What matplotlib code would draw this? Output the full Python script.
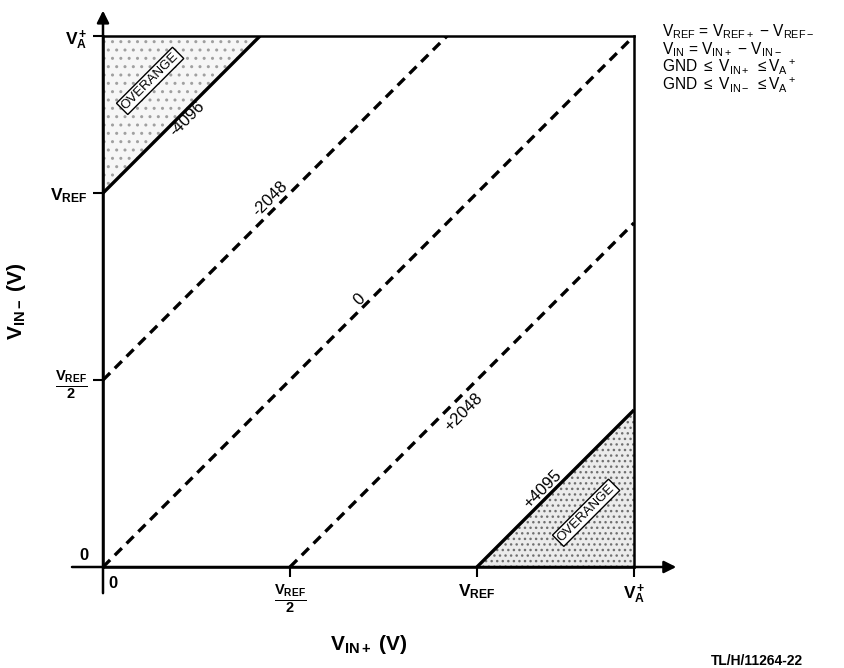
import numpy as np
import matplotlib
matplotlib.use("Agg")
import matplotlib.pyplot as plt

plt.rcParams['font.family'] = ['Liberation Sans', 'DejaVu Sans']
plt.rcParams['mathtext.fontset'] = 'custom'
plt.rcParams['mathtext.rm'] = 'Liberation Sans'
plt.rcParams['mathtext.it'] = 'Liberation Sans'
plt.rcParams['mathtext.bf'] = 'Liberation Sans:bold'
plt.rcParams['mathtext.sf'] = 'Liberation Sans'
plt.rcParams['mathtext.default'] = 'regular'
plt.rcParams['hatch.linewidth'] = 1.0

# levels in units of V_REF
VA_LEVEL = 1.42
tick_values = [0.5, 1.0, VA_LEVEL]
tick_labels = [r'$\frac{V_{REF}}{2}$', r'$V_{REF}$', r'$V_A^+$']

# output code lines: V_IN- = V_IN+ + offset
code_labels = ['-4096', '-2048', '0', '+2048', '+4095']
code_offsets = [1.0, 0.5, 0.0, -0.5, -1.0]
code_solid = [True, False, False, False, True]

notes = [
    r'$V_{REF}$ = $V_{REF+}$ $-$ $V_{REF-}$',
    r'$V_{IN}$ = $V_{IN+}$ $-$ $V_{IN-}$',
    r'GND $\leq$ $V_{IN+}$ $\leq V_A{}^+$',
    r'GND $\leq$ $V_{IN-}$ $\leq V_A{}^+$',
]

# where the code labels sit along each line (x) and how far off it (y)
label_x = [0.225, 0.448, 0.686, 0.965, 1.177]
label_dy = [-0.027, 0.036, 0.03, -0.052, 0.03]

fig = plt.figure(figsize=(8.44, 6.68), dpi=100)
ax = fig.add_axes([103 / 844, 101 / 668, 531 / 844, 531 / 668])
ax.set_xlim(0, VA_LEVEL)
ax.set_ylim(0, VA_LEVEL)

# overange regions
xu = np.linspace(0, VA_LEVEL - code_offsets[0], 50)
ax.fill_between(xu, xu + code_offsets[0], VA_LEVEL, facecolor='#f6f6f6',
                edgecolor='#a0a0a0', hatch='..', linewidth=0)
xl = np.linspace(-code_offsets[-1], VA_LEVEL, 50)
ax.fill_between(xl, 0, xl + code_offsets[-1], facecolor='#ebebeb',
                edgecolor='#707070', hatch='...', linewidth=0)

for lab, off, solid, lx, dy in zip(code_labels, code_offsets, code_solid, label_x, label_dy):
    x0 = max(0, -off)
    x1 = min(VA_LEVEL, VA_LEVEL - off)
    xs = np.array([x0, x1])
    if solid:
        ax.plot(xs, xs + off, color='black', lw=2.4, solid_capstyle='butt')
    else:
        ax.plot(xs, xs + off, color='black', lw=2.4, dashes=(3.0, 2.0))
    ax.text(lx, lx + off + dy, lab, rotation=45, rotation_mode='anchor',
            ha='center', va='center', fontsize=12)

box = dict(boxstyle='square,pad=0.15', fc='white', ec='black', lw=1.0)
ax.text(0.126, 1.300, 'OVERANGE', rotation=45, rotation_mode='anchor',
        ha='center', va='center', fontsize=9.5, bbox=box)
ax.text(1.292, 0.145, 'OVERANGE', rotation=45, rotation_mode='anchor',
        ha='center', va='center', fontsize=9.5, bbox=box)

for s in ax.spines.values():
    s.set_linewidth(1.8)

ax.set_xticks(tick_values, tick_labels, fontsize=12.5, fontweight='bold')
ax.set_yticks(tick_values, tick_labels, fontsize=12.5, fontweight='bold')
for lbl in [ax.get_xticklabels()[0], ax.get_yticklabels()[0]]:
    lbl.set_fontsize(15)
ax.tick_params(direction='out', length=7, width=1.5, pad=4)

ax.text(0.015, -0.025, '0', ha='left', va='top', fontsize=12, fontweight='bold')
ax.text(-0.04, 0.012, '0', ha='right', va='bottom', fontsize=12, fontweight='bold')

# axis extensions with arrows
ax.annotate('', xy=(1.533, 0), xytext=(-0.083, 0), annotation_clip=False,
            arrowprops=dict(arrowstyle='-|>', lw=1.8, color='black', mutation_scale=18,
                            shrinkA=0, shrinkB=0))
ax.annotate('', xy=(0, 1.488), xytext=(0, -0.07), annotation_clip=False,
            arrowprops=dict(arrowstyle='-|>', lw=1.8, color='black', mutation_scale=18,
                            shrinkA=0, shrinkB=0))

ax.set_xlabel(r'$V_{IN+}$ (V)', fontsize=15, fontweight='bold')
ax.xaxis.set_label_coords(0.5, -0.125)
ax.set_ylabel(r'$V_{IN-}$ (V)', fontsize=15, fontweight='bold')
ax.yaxis.set_label_coords(-0.142, 0.5)

for i, line in enumerate(notes):
    fig.text(662 / 844, 1 - (36 + 18.2 * i) / 668, line, ha='left', va='baseline',
             fontsize=11.2)

fig.text(757 / 844, 1 - 661 / 668, 'TL/H/11264-22', ha='center', va='center',
         fontsize=10, fontweight='bold')

fig.savefig('out.png', dpi=100)
